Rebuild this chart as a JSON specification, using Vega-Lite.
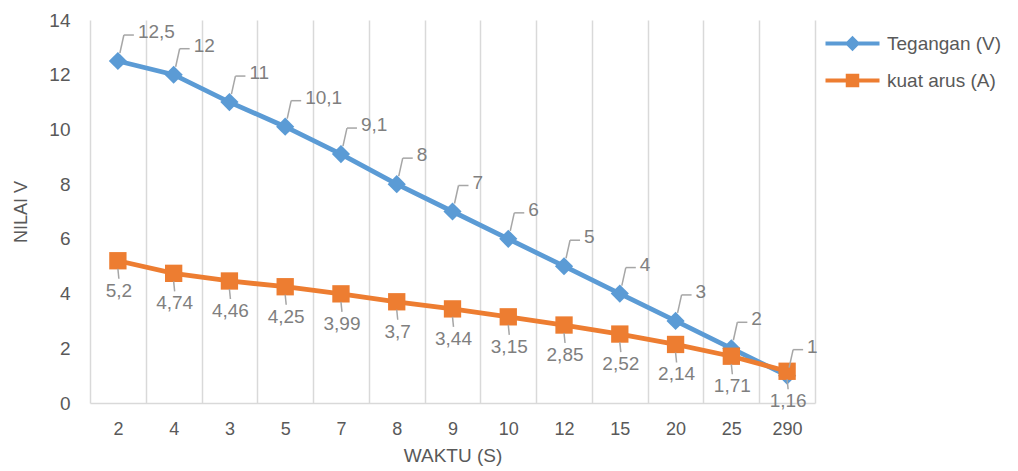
{
  "$schema": "https://vega.github.io/schema/vega-lite/v6.json",
  "width": 725,
  "height": 383,
  "autosize": "none",
  "padding": {"left": 90, "top": 20, "right": 203, "bottom": 68},
  "config": {
    "view": {"stroke": null},
    "font": "Liberation Sans",
    "locale": {"number": {"decimal": ",", "thousands": ".", "grouping": [3], "currency": ["", ""]}}
  },
  "data": {
    "values": [
      {"t": "2", "s": "Tegangan (V)", "v": 12.5},
      {"t": "4", "s": "Tegangan (V)", "v": 12},
      {"t": "3", "s": "Tegangan (V)", "v": 11},
      {"t": "5", "s": "Tegangan (V)", "v": 10.1},
      {"t": "7", "s": "Tegangan (V)", "v": 9.1},
      {"t": "8", "s": "Tegangan (V)", "v": 8},
      {"t": "9", "s": "Tegangan (V)", "v": 7},
      {"t": "10", "s": "Tegangan (V)", "v": 6},
      {"t": "12", "s": "Tegangan (V)", "v": 5},
      {"t": "15", "s": "Tegangan (V)", "v": 4},
      {"t": "20", "s": "Tegangan (V)", "v": 3},
      {"t": "25", "s": "Tegangan (V)", "v": 2},
      {"t": "290", "s": "Tegangan (V)", "v": 1},
      {"t": "2", "s": "kuat arus (A)", "v": 5.2},
      {"t": "4", "s": "kuat arus (A)", "v": 4.74},
      {"t": "3", "s": "kuat arus (A)", "v": 4.46},
      {"t": "5", "s": "kuat arus (A)", "v": 4.25},
      {"t": "7", "s": "kuat arus (A)", "v": 3.99},
      {"t": "8", "s": "kuat arus (A)", "v": 3.7},
      {"t": "9", "s": "kuat arus (A)", "v": 3.44},
      {"t": "10", "s": "kuat arus (A)", "v": 3.15},
      {"t": "12", "s": "kuat arus (A)", "v": 2.85},
      {"t": "15", "s": "kuat arus (A)", "v": 2.52},
      {"t": "20", "s": "kuat arus (A)", "v": 2.14},
      {"t": "25", "s": "kuat arus (A)", "v": 1.71},
      {"t": "290", "s": "kuat arus (A)", "v": 1.16}
    ]
  },
  "encoding": {
    "x": {
      "field": "t", "type": "ordinal", "sort": null, "bandPosition": 0.5,
      "scale": {"type": "band", "paddingInner": 0, "paddingOuter": 0},
      "axis": {
        "title": "WAKTU (S)", "titleFontSize": 19, "titleFontWeight": "normal", "titleColor": "#595959", "titlePadding": 8,
        "labelFontSize": 18, "labelColor": "#595959", "labelAngle": 0, "labelPadding": 17,
        "ticks": false, "domain": true, "domainColor": "#d9d9d9", "domainWidth": 1.5,
        "grid": true, "gridColor": "#d9d9d9", "gridWidth": 1.5, "tickBand": "extent"
      }
    },
    "y": {
      "field": "v", "type": "quantitative",
      "scale": {"domain": [0, 14], "nice": false, "zero": true},
      "axis": {
        "title": "NILAI V", "titleFontSize": 18, "titleFontWeight": "normal", "titleColor": "#595959", "titlePadding": 18,
        "labelFontSize": 19, "labelColor": "#595959", "labelPadding": 20,
        "values": [0, 2, 4, 6, 8, 10, 12, 14],
        "ticks": false, "domain": false, "grid": false
      }
    }
  },
  "layer": [
    {
      "mark": {"type": "line", "strokeWidth": 4.8},
      "encoding": {
        "color": {
          "field": "s", "type": "nominal",
          "scale": {"domain": ["Tegangan (V)", "kuat arus (A)"], "range": ["#5b9bd5", "#ed7d31"]},
          "legend": {
            "orient": "none", "legendX": 753, "legendY": 14, "title": null,
            "symbolSize": 324, "symbolStrokeWidth": 0, "labelOffset": 25, "rowPadding": 17,
            "labelFontSize": 19, "labelColor": "#595959",
            "encode": {
              "symbols": {
                "update": {
                  "shape": {"signal": "datum.value == 'Tegangan (V)' ? 'M-3,-0.22H3V0.22H-3Z M-0.85,0L0,-0.85L0.85,0L0,0.85Z' : 'M-3,-0.22H3V0.22H-3Z M-0.75,-0.75H0.75V0.75H-0.75Z'"},
                  "fill": {"signal": "datum.value == 'Tegangan (V)' ? '#5b9bd5' : '#ed7d31'"},
                  "stroke": {"value": "transparent"},
                  "strokeWidth": {"value": 0},
                  "opacity": {"value": 1}
                }
              }
            }
          }
        },
        "order": {"value": null}
      }
    },
    {
      "transform": [{"filter": "datum.s == 'Tegangan (V)'"}],
      "mark": {"type": "point", "filled": true, "opacity": 1, "shape": "diamond", "size": 330, "color": "#5b9bd5"}
    },
    {
      "transform": [{"filter": "datum.s == 'kuat arus (A)'"}],
      "mark": {"type": "point", "filled": true, "opacity": 1, "shape": "square", "size": 300, "color": "#ed7d31"}
    },
    {
      "transform": [{"filter": "datum.s == 'Tegangan (V)'"}],
      "mark": {"type": "rule", "color": "#a6a6a6", "strokeWidth": 1.5, "xOffset": 2, "yOffset": -8, "x2Offset": 6, "y2Offset": -26},
      "encoding": {"x2": {"field": "t", "bandPosition": 0.5}, "y2": {"field": "v"}}
    },
    {
      "transform": [{"filter": "datum.s == 'Tegangan (V)'"}],
      "mark": {"type": "rule", "color": "#a6a6a6", "strokeWidth": 1.5, "xOffset": 6, "yOffset": -26, "x2Offset": 16, "y2Offset": -26},
      "encoding": {"x2": {"field": "t", "bandPosition": 0.5}, "y2": {"field": "v"}}
    },
    {
      "transform": [{"filter": "datum.s == 'kuat arus (A)'"}],
      "mark": {"type": "rule", "color": "#a6a6a6", "strokeWidth": 1.5, "xOffset": 0, "yOffset": 8, "x2Offset": 1, "y2Offset": 18},
      "encoding": {"x2": {"field": "t", "bandPosition": 0.5}, "y2": {"field": "v"}}
    },
    {
      "transform": [{"filter": "datum.s == 'Tegangan (V)'"}],
      "mark": {"type": "text", "align": "left", "baseline": "middle", "dx": 20, "dy": -29, "fontSize": 19, "color": "#7f7f7f"},
      "encoding": {"text": {"field": "v", "type": "quantitative", "format": ".3~r"}}
    },
    {
      "transform": [{"filter": "datum.s == 'kuat arus (A)'"}],
      "mark": {"type": "text", "align": "center", "baseline": "middle", "dx": 1, "dy": 30, "fontSize": 19, "color": "#7f7f7f"},
      "encoding": {"text": {"field": "v", "type": "quantitative", "format": ".3~r"}}
    }
  ]
}
